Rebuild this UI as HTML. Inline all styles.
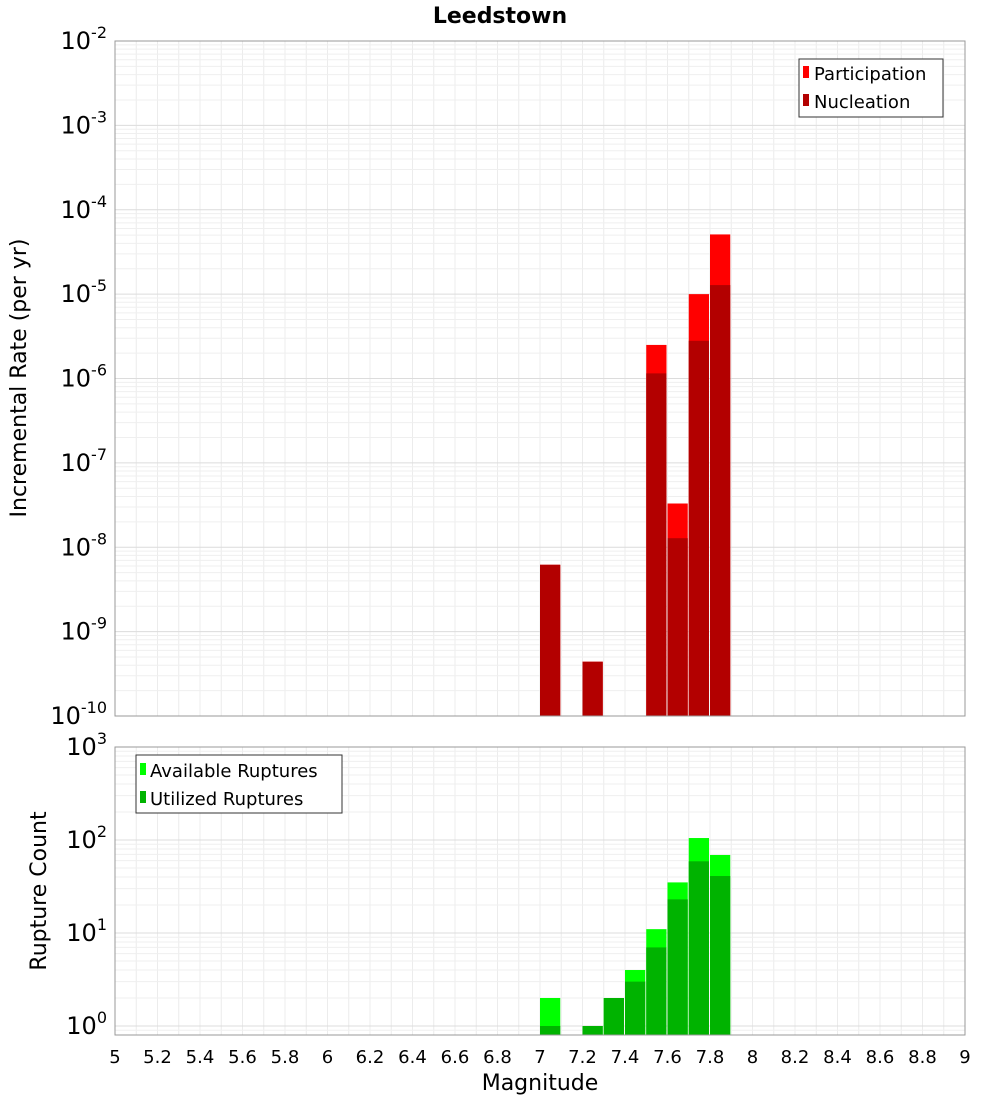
<!DOCTYPE html>
<html><head><meta charset="utf-8"><style>
body{margin:0;background:#fff;font-family:"Liberation Sans","DejaVu Sans",sans-serif}
svg text{font-family:"DejaVu Sans","Liberation Sans",sans-serif}
</style></head><body>
<svg id="c" width="1000" height="1100" xmlns="http://www.w3.org/2000/svg">
<text x="500" y="23" text-anchor="middle" font-size="22" font-weight="bold">Leedstown</text>
<g id="topPanel"></g>
<g id="botPanel"></g>
<text transform="translate(26,378) rotate(-90)" text-anchor="middle" font-size="22">Incremental Rate (per yr)</text>
<text transform="translate(46,891) rotate(-90)" text-anchor="middle" font-size="22">Rupture Count</text>
<text x="540" y="1090" text-anchor="middle" font-size="22">Magnitude</text>
<g>
<rect x="799" y="59" width="144" height="58" fill="#fff" stroke="#333"/>
<rect x="803" y="66" width="6" height="12" fill="#ff0000"/>
<text x="814" y="80" font-size="18">Participation</text>
<rect x="803" y="94" width="6" height="12" fill="#b30000"/>
<text x="814" y="108" font-size="18">Nucleation</text>
</g>
<g>
<rect x="136" y="755" width="206" height="58" fill="#fff" stroke="#333"/>
<rect x="140" y="763" width="6" height="12" fill="#00ff00"/>
<text x="150" y="777" font-size="18">Available Ruptures</text>
<rect x="140" y="791" width="6" height="12" fill="#00b300"/>
<text x="150" y="805" font-size="18">Utilized Ruptures</text>
</g>
</svg>
<script>
const mags=[7.0,7.2,7.5,7.6,7.7,7.8];
const participation=[6.2e-9,4.4e-10,2.5e-6,3.3e-8,1.0e-5,5.1e-5];
const nucleation=[6.2e-9,4.4e-10,1.15e-6,1.28e-8,2.8e-6,1.28e-5];
const cmags=[7.0,7.2,7.3,7.4,7.5,7.6,7.7,7.8];
const available=[2,1,2,4,11,35,105,69];
const utilized=[1,1,2,3,7,23,59,41];
const xTicks=[5,5.2,5.4,5.6,5.8,6,6.2,6.4,6.6,6.8,7,7.2,7.4,7.6,7.8,8,8.2,8.4,8.6,8.8,9];
const topExps=[-2,-3,-4,-5,-6,-7,-8,-9,-10];
const botExps=[3,2,1,0];
const NS='http://www.w3.org/2000/svg';
const svgEl=document.getElementById('c');
function mk(p,t,a){const e=document.createElementNS(NS,t);for(const k in a)e.setAttribute(k,a[k]);p.appendChild(e);return e;}
const X0=115,X1=965;
const xs=m=>X0+(m-5)/4*(X1-X0);
const T0=41,T1=716,yT=v=>T0+(-2-Math.log10(v))/8*(T1-T0);
const B0=747,B1=1035,BD=93,yB=v=>B0+(3-Math.log10(v))*BD;
function panel(g,t0,b0,yf,lo,hi){
  mk(g,'rect',{x:X0,y:t0,width:X1-X0,height:b0-t0,fill:'#fff'});
  for(let i=0;i<=40;i++){const m=5+i*0.1;mk(g,'line',{x1:xs(m),x2:xs(m),y1:t0,y2:b0,stroke:'#ececec','stroke-width':1});}
  for(let e=lo;e<hi;e++)for(let k=1;k<10;k++){const y=yf(k*Math.pow(10,e));if(y>=t0&&y<=b0)mk(g,'line',{x1:X0,x2:X1,y1:y,y2:y,stroke:k==1?'#dcdcdc':'#efefef','stroke-width':1});}
}
const topG=document.getElementById('topPanel'),botG=document.getElementById('botPanel');
panel(topG,T0,T1,yT,-10,-2);
panel(botG,B0,B1,yB,-1,3);
const bw=xs(5.1)-xs(5)-1;
mags.forEach((m,i)=>{
  const r=mk(topG,'rect',{x:xs(m),y:yT(participation[i]),width:bw,height:T1-yT(participation[i]),fill:'#ff0000'});
  
  
  const n=mk(topG,'rect',{x:xs(m),y:yT(nucleation[i]),width:bw,height:T1-yT(nucleation[i]),fill:'#b30000'});
  
  
});
cmags.forEach((m,i)=>{
  const r=mk(botG,'rect',{x:xs(m),y:yB(available[i]),width:bw,height:B1-yB(available[i]),fill:'#00ff00'});
  
  
  const n=mk(botG,'rect',{x:xs(m),y:yB(utilized[i]),width:bw,height:B1-yB(utilized[i]),fill:'#00b300'});
  
  
});
mk(topG,'rect',{x:X0,y:T0,width:X1-X0,height:T1-T0,fill:'none',stroke:'#999'});
mk(botG,'rect',{x:X0,y:B0,width:X1-X0,height:B1-B0,fill:'none',stroke:'#999'});
function expLabel(g,y,e,name){
  const t=mk(g,'text',{x:107,y:y+8,'text-anchor':'end','font-size':24});
  
  
  t.appendChild(document.createTextNode('10'));
  const s=mk(t,'tspan',{dy:-11,'font-size':16});s.textContent=String(e);
}
topExps.forEach(e=>expLabel(topG,yT(Math.pow(10,e)),e,'y-tick-rate'));
botExps.forEach(e=>expLabel(botG,yB(Math.pow(10,e)),e,'y-tick-count'));
xTicks.forEach(m=>{
  const t=mk(svgEl,'text',{x:xs(m),y:1063,'text-anchor':'middle','font-size':18});
  
  
  t.textContent=String(m);
});
</script>
</body></html>
